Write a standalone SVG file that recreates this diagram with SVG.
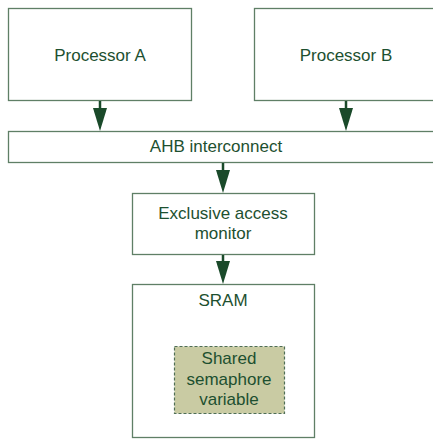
<svg xmlns="http://www.w3.org/2000/svg" width="433" height="439" viewBox="0 0 433 439">
  <defs>
    <style>
      .box { fill: #ffffff; stroke: #5f7f66; stroke-width: 1.3; }
      .var { fill: #c9cba3; stroke: #4f6e55; stroke-width: 1.2; stroke-dasharray: 3 2; }
      .lbl { font-family: "Liberation Sans", Arial, sans-serif; font-size: 17px; fill: #1d5030; text-anchor: middle; }
      .wire { stroke: #1a4a2a; stroke-width: 2.5; fill: none; }
      .head { fill: #1a4a2a; }
    </style>
  </defs>

  <g id="processor-a">
    <rect class="box" x="8.5" y="8.5" width="183" height="92"/>
    <text class="lbl" x="100" y="61">Processor A</text>
  </g>

  <g id="processor-b">
    <rect class="box" x="254.5" y="8.5" width="200" height="92"/>
    <text class="lbl" x="346" y="61">Processor B</text>
  </g>

  <g id="ahb-interconnect">
    <rect class="box" x="8.5" y="131.5" width="446" height="31"/>
    <text class="lbl" x="216" y="152">AHB interconnect</text>
  </g>

  <g id="exclusive-monitor">
    <rect class="box" x="132.5" y="193.5" width="182" height="61"/>
    <text class="lbl" x="223" y="219">Exclusive access</text>
    <text class="lbl" x="223" y="239">monitor</text>
  </g>

  <g id="sram">
    <rect class="box" x="132.5" y="284.5" width="182" height="153"/>
    <text class="lbl" x="223" y="306">SRAM</text>
  </g>

  <g id="semaphore">
    <rect class="var" x="174.5" y="346.5" width="110" height="67"/>
    <text class="lbl" x="229" y="364">Shared</text>
    <text class="lbl" x="229" y="385">semaphore</text>
    <text class="lbl" x="229" y="405">variable</text>
  </g>

  <g id="connectors">
    <line class="wire" x1="100" y1="101" x2="100" y2="110"/>
    <polygon class="head" points="93,108 107,108 100,131"/>
    <line class="wire" x1="346" y1="101" x2="346" y2="110"/>
    <polygon class="head" points="339,108 353,108 346,131"/>
    <line class="wire" x1="223" y1="163" x2="223" y2="172"/>
    <polygon class="head" points="216,170 230,170 223,193"/>
    <line class="wire" x1="223" y1="255" x2="223" y2="263"/>
    <polygon class="head" points="216,261 230,261 223,284"/>
  </g>
</svg>
